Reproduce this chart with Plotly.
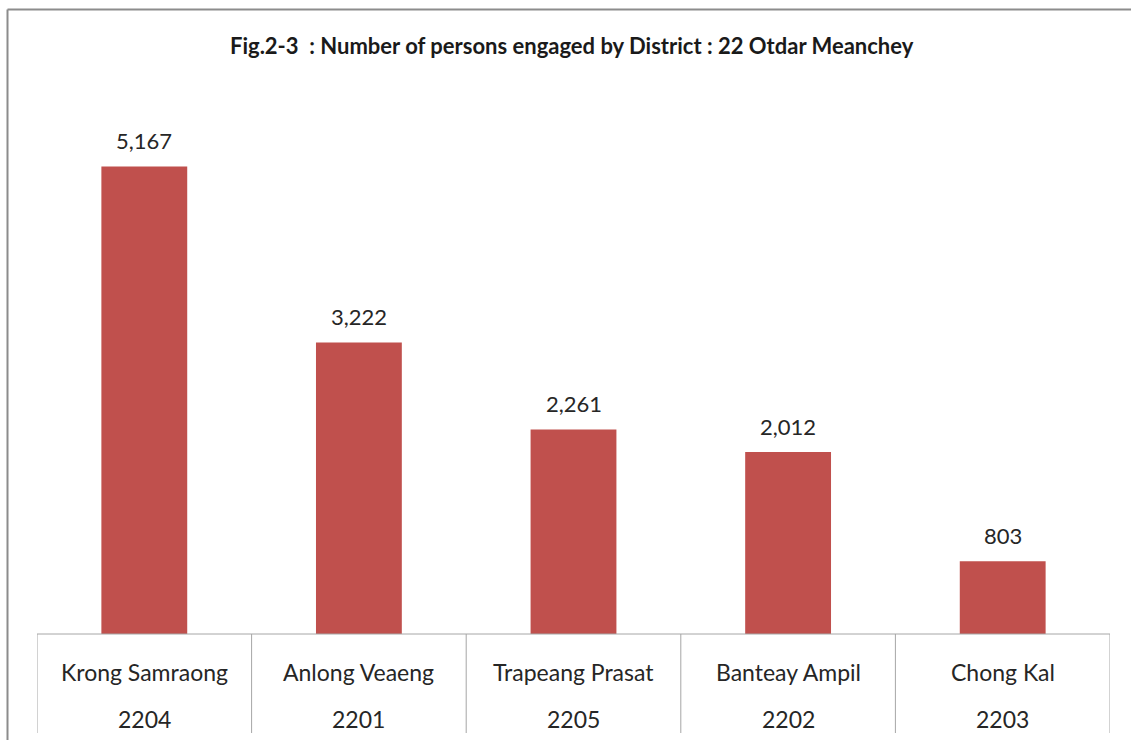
import plotly.graph_objects as go

districts = ["Krong Samraong", "Anlong Veaeng", "Trapeang Prasat", "Banteay Ampil", "Chong Kal"]
codes = ["2204", "2201", "2205", "2202", "2203"]
persons = [5167, 3222, 2261, 2012, 803]
title_text = "Fig.2-3  : Number of persons engaged by District : 22 Otdar Meanchey"

W, H = 1131, 740
ml, mr, mt, mb = 37, 21, 91, 106
ph = H - mt - mb
pw = W - ml - mr

def py(ypix):
    return (H - mb - ypix) / ph

def px(xpix):
    return (xpix - ml) / pw

FONT = "Lato, Roboto, 'Liberation Sans', sans-serif"
x_idx = list(range(len(districts)))

fig = go.Figure()
fig.add_trace(go.Bar(
    x=x_idx, y=persons,
    marker=dict(color="#C0504D", line=dict(width=0)),
    width=0.4,
    hoverinfo="skip",
))

shapes = []
line_col = "#A6A6A6"
shapes.append(dict(type="line", xref="x", yref="paper", x0=-0.5, x1=len(districts) - 0.5,
                   y0=0, y1=0, line=dict(color=line_col, width=1)))
for i in range(len(districts) + 1):
    shapes.append(dict(type="line", xref="x", yref="paper", x0=i - 0.5, x1=i - 0.5,
                       y0=0, y1=py(733), line=dict(color=line_col, width=1)))
shapes.append(dict(type="line", xref="paper", yref="paper", x0=px(7.5), x1=px(7.5),
                   y0=py(9.5), y1=py(740), line=dict(color="#8C8C8C", width=2)))
shapes.append(dict(type="line", xref="paper", yref="paper", x0=px(7.5), x1=px(1131),
                   y0=py(9.5), y1=py(9.5), line=dict(color="#8C8C8C", width=2)))

annotations = []
for i, v in enumerate(persons):
    annotations.append(dict(x=i, y=v, xref="x", yref="y", text=f"{v:,}", showarrow=False,
                            yanchor="bottom", yshift=10,
                            font=dict(family=FONT, size=22, color="#262626")))
for i, (d, c) in enumerate(zip(districts, codes)):
    annotations.append(dict(x=i, y=py(672), xref="x", yref="paper", text=d, showarrow=False,
                            yanchor="middle", font=dict(family=FONT, size=23, color="#262626")))
    annotations.append(dict(x=i, y=py(719), xref="x", yref="paper", text=c, showarrow=False,
                            yanchor="middle", font=dict(family=FONT, size=23, color="#262626")))
annotations.append(dict(x=px(572), y=py(45), xref="paper", yref="paper", text=f"<b>{title_text}</b>",
                        showarrow=False, yanchor="middle", xanchor="center",
                        font=dict(family=FONT, size=22, color="#1a1a1a")))

fig.update_layout(
    width=W, height=H,
    margin=dict(l=ml, r=mr, t=mt, b=mb),
    paper_bgcolor="white", plot_bgcolor="white",
    showlegend=False,
    hovermode=False,
    shapes=shapes,
    annotations=annotations,
    xaxis=dict(range=[-0.5, len(districts) - 0.5], showticklabels=False, showgrid=False,
               zeroline=False, showline=False, ticks="", fixedrange=True),
    yaxis=dict(range=[0, 6000], visible=False, showgrid=False, zeroline=False, fixedrange=True),
)

fig.write_html("out.html",
               config={"displayModeBar": False, "staticPlot": True},
               post_script="document.body.style.margin='0';document.body.style.overflow='hidden';")
